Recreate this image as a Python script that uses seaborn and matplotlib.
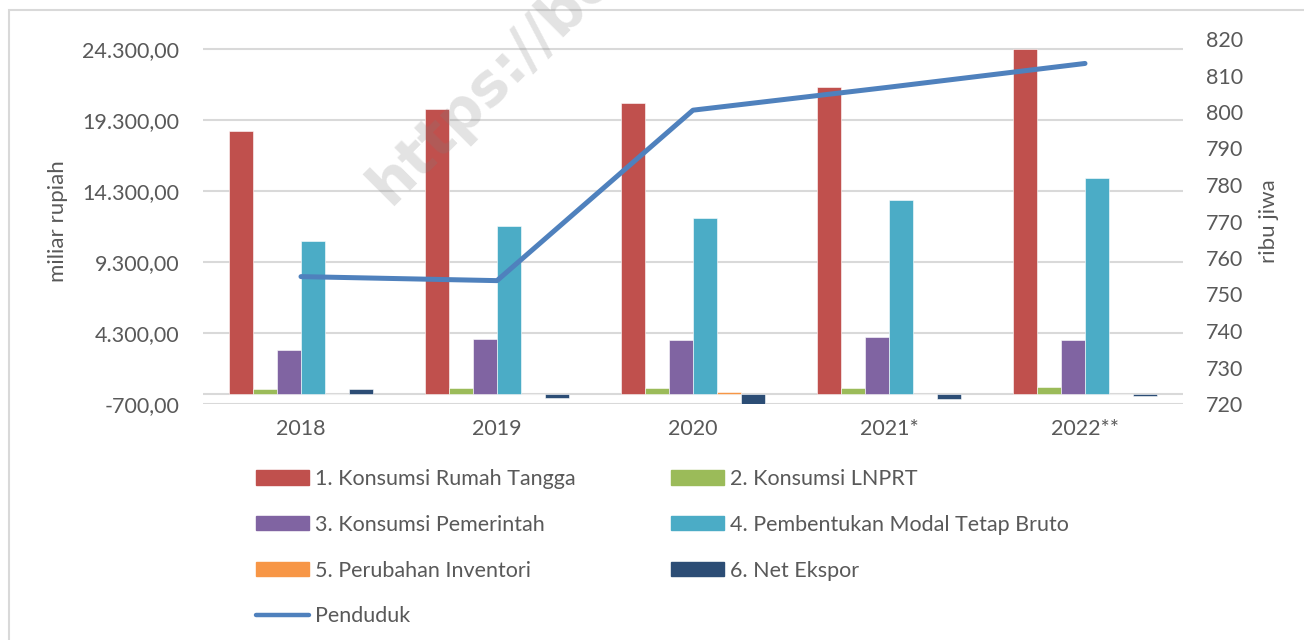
import pandas as pd
import numpy as np
import seaborn as sns
import matplotlib.pyplot as plt
from matplotlib.patches import Patch, Rectangle
from matplotlib.lines import Line2D
from matplotlib.ticker import FuncFormatter

years = ['2018', '2019', '2020', '2021*', '2022**']
komponen = ['1. Konsumsi Rumah Tangga', '2. Konsumsi LNPRT', '3. Konsumsi Pemerintah',
            '4. Pembentukan Modal Tetap Bruto', '5. Perubahan Inventori', '6. Net Ekspor']
rumah_tangga = [18500, 20070, 20490, 21640, 24300]
lnprt = [370, 440, 420, 420, 490]
pemerintah = [3100, 3870, 3800, 4010, 3800]
pmtb = [10770, 11830, 12390, 13660, 15210]
inventori = [20, 10, 160, 0, 0]
net_ekspor = [350, -260, -680, -330, -160]
penduduk = [754.9, 753.8, 800.5, 806.8, 813.3]

colors = ['#C0504D', '#9BBB59', '#8064A2', '#4BACC6', '#F79646', '#2C4D75']
line_color = '#4F81BD'
grid_color = '#D9D9D9'
text_color = '#595959'

rows = []
for name, vals in zip(komponen, [rumah_tangga, lnprt, pemerintah, pmtb, inventori, net_ekspor]):
    for y, v in zip(years, vals):
        rows.append({'Tahun': y, 'Komponen': name, 'Nilai': v})
df = pd.DataFrame(rows)
df_pend = pd.DataFrame({'Tahun': years, 'Penduduk': penduduk})

sns.set_style('white')
plt.rcParams['font.family'] = ['Lato', 'DejaVu Sans']

fig = plt.figure(figsize=(13.04, 6.4), dpi=100)
ax = fig.add_axes([203/1304, 1-404/640, 980/1304, 365/640])

sns.barplot(data=df, x='Tahun', y='Nilai', hue='Komponen', hue_order=komponen,
            order=years, palette=colors, saturation=1, width=0.735, gap=0, legend=False,
            edgecolor='white', linewidth=0.4, ax=ax, zorder=3)

ax.set_ylim(-700, 25000)
ax.set_yticks(np.arange(-700, 24301, 5000))
ax.yaxis.set_major_formatter(FuncFormatter(
    lambda v, p: f"{v:,.2f}".replace(',', 'X').replace('.', ',').replace('X', '.')))
ax.grid(axis='y', color=grid_color, linewidth=1.5, zorder=0)
ax.set_axisbelow(True)
ax.axhline(0, color=grid_color, linewidth=1.5, zorder=1)
ax.set_xlim(-0.5, 4.5)
for s in ax.spines.values():
    s.set_visible(False)
ax.tick_params(axis='both', length=0, colors=text_color, labelsize=15.5)
ax.tick_params(axis='y', pad=17)
ax.tick_params(axis='x', pad=11)
ax.set_xlabel('')
ax.set_ylabel('miliar rupiah', color=text_color, fontsize=16, labelpad=10)

ax2 = ax.twinx()
sns.lineplot(data=df_pend, x='Tahun', y='Penduduk', color=line_color, linewidth=3.6,
             solid_capstyle='round', ax=ax2, sort=False)
ax2.set_ylim(720, 820)
ax2.set_yticks(np.arange(720, 821, 10))
ax2.set_xlim(-0.5, 4.5)
for s in ax2.spines.values():
    s.set_visible(False)
ax2.tick_params(axis='y', length=0, colors=text_color, labelsize=15.5, pad=16.5)
ax2.set_ylabel('ribu jiwa', color=text_color, fontsize=16, labelpad=11)
ax2.grid(False)

handles = [Patch(color=c) for c in colors]
line_h = Line2D([0], [0], color=line_color, linewidth=3.2, solid_capstyle='round')
# column-major order so that rows read left to right like the reference
order_h = [handles[0], handles[2], handles[4], line_h, handles[1], handles[3], handles[5]]
order_l = [komponen[0], komponen[2], komponen[4], 'Penduduk', komponen[1], komponen[3], komponen[5]]
fig.legend(order_h, order_l, ncol=2, loc='upper left', bbox_to_anchor=(256/1304, 1-469/640),
           frameon=False, fontsize=15.5, handlelength=2.45, handleheight=0.65, handletextpad=0.28,
           columnspacing=4.45, labelspacing=1.2, borderpad=0, borderaxespad=0,
           labelcolor=text_color)

# outer chart border
fig.patches.append(Rectangle((9/1304, -0.1), 1.2, 1-10/640+0.1, transform=fig.transFigure,
                             fill=False, edgecolor=grid_color, linewidth=1.5))

# watermark (cut by the top edge, as in the source)
fig.text(390/1304, 1-207/640, 'https://bo', rotation=45, rotation_mode='anchor',
         ha='left', va='baseline', fontsize=42, fontweight='bold',
         color='#7F7F7F', alpha=0.22, family='DejaVu Sans', zorder=10)

fig.savefig('out.png', dpi=100)
